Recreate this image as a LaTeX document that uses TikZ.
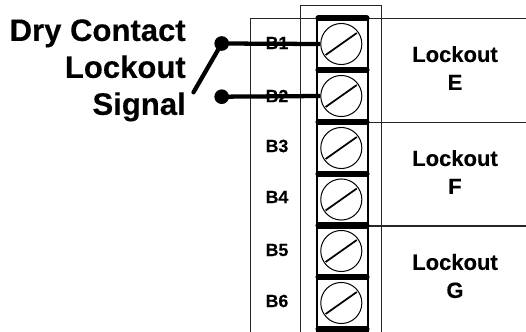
\documentclass[tikz,border=0pt]{standalone}
\usepackage{fontspec}
\setmainfont[BoldFeatures={FakeBold=0.25}]{Liberation Sans}
\tikzset{
  frame/.style={draw=black!85,line width=1.1pt},
  bar/.style={line width=4.6pt,line cap=round,black},
  thinbar/.style={line width=3.8pt,line cap=round,black},
  side/.style={line width=1.6pt,black},
  screw/.style={circle,draw=black,line width=0.75pt,minimum size=30.8pt,inner sep=0pt,fill=white},
  slot/.style={line width=1.3pt,black},
  wire/.style={line width=3.2pt,black},
  dot/.style={circle,fill=black,minimum size=11pt,inner sep=0pt},
  blabel/.style={font=\bfseries\fontsize{13.3}{15}\selectfont,anchor=center,inner sep=0pt},
  lock/.style={font=\bfseries\fontsize{16.5}{21}\selectfont,align=center,inner sep=0pt},
  title/.style={font=\bfseries\fontsize{23.3}{27.7}\selectfont,align=right,anchor=north east,inner sep=0pt}
}
\begin{document}
\begin{tikzpicture}[x=0.75pt,y=-0.75pt]
\useasboundingbox (0,0) rectangle (526,332);
\fill[white] (0,0) rectangle (526,332);
% frames
\draw[frame] (250.3,332) -- (250.3,18.4) -- (316,18.4);
\draw[frame] (300.3,332) -- (300.3,5.5) -- (381.4,5.5) -- (381.4,332);
\draw[frame] (368,18.4) -- (526,18.4);
\draw[frame] (368,122.4) -- (526,122.4);
\draw[frame] (368,226) -- (526,226);
% strip
\draw[side] (316.8,18) -- (316.8,332);
\draw[side] (368.4,18) -- (368.4,332);
\draw[bar] (318.5,18) -- (366.5,18);
\draw[thinbar] (318,70) -- (367,70);
\draw[bar] (318.5,122) -- (366.5,122);
\draw[thinbar] (318,174) -- (367,174);
\draw[bar] (318.5,225.5) -- (366.5,225.5);
\draw[thinbar] (318,277) -- (367,277);
\draw[bar] (318.5,329) -- (366.5,329);
% labels
\node[blabel] (b1) at (277,43) {B1};
\node[blabel] (b2) at (277,96) {B2};
\node[blabel] (b3) at (277,146) {B3};
\node[blabel] (b4) at (277,197) {B4};
\node[blabel] (b5) at (277,250) {B5};
\node[blabel] (b6) at (277,301) {B6};
% screws
\foreach \n/\y in {1/44,2/96,3/148,4/199.5,5/251,6/303}{
  \node[screw] (s\n) at (341.3,\y) {};
  \draw[slot] ([shift={(-15.7,11)}]s\n.center) -- ([shift={(15.5,-11)}]s\n.center);
}
% wires
\node[dot] (d1) at (221.7,43.5) {};
\node[dot] (d2) at (221.7,96.7) {};
\coordinate (lever) at (193.5,92.3);
\draw[wire] (d1.center) -- (s1.west);
\draw[wire] (d2.center) -- (s2.west);
\draw[wire,line cap=round] (d1.center) -- (lever);
% text
\node[title] (t) at (186,19) {Dry Contact\\Lockout\\Signal};
\node[lock] (le) at (455,68) {Lockout\\E};
\node[lock] (lf) at (455,172) {Lockout\\F};
\node[lock] (lg) at (455,276) {Lockout\\G};
\end{tikzpicture}
\end{document}
